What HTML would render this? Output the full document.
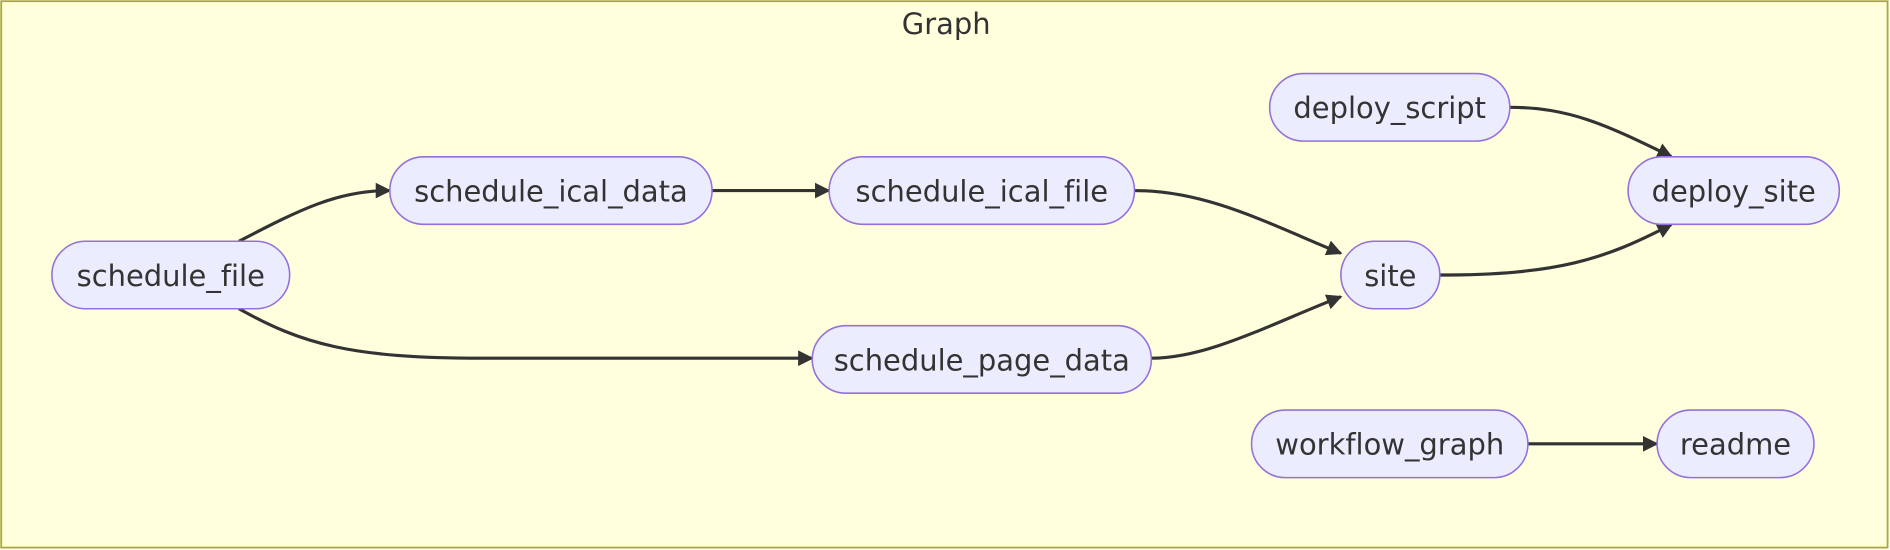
<!DOCTYPE html>
<html><head><meta charset="utf-8"><style>
html,body{margin:0;padding:0;background:#fff;}
svg{display:block;}
text{font-family:"DejaVu Sans","Liberation Sans",sans-serif;fill:#333;font-variant-ligatures:none;font-feature-settings:"liga" 0;}
</style></head><body>
<svg width="1890" height="550" viewBox="0 0 1566 456" preserveAspectRatio="none" xmlns="http://www.w3.org/2000/svg">
<defs>
<marker id="a" viewBox="0 0 10 10" refX="9" refY="5" markerWidth="5" markerHeight="5" orient="auto" markerUnits="strokeWidth">
<path d="M0,0 L10,5 L0,10 z" fill="#333"/></marker>
</defs>
<rect x="1" y="1" width="1563" height="453" fill="#FFFFDE" stroke="#AAAA33" stroke-width="1.5"/>
<text x="784" y="28" font-size="24" text-anchor="middle">Graph</text>
<g fill="none" stroke="#333" stroke-width="2.6" marker-end="url(#a)">
<path d="M198,200 C250,173 280,158 323,158"/>
<path d="M198,256 C250,285 290,297 400,297 L673,297"/>
<path d="M590,158 L687,158"/>
<path d="M940,158 C1000,158 1050,185 1111,210"/>
<path d="M954,297 C1000,297 1050,270 1111,246"/>
<path d="M1193,228 C1290,228 1330,215 1385,186"/>
<path d="M1251,89 C1300,89 1330,103 1385,130"/>
<path d="M1266,368 L1373,368"/>
</g>
<g fill="#ECECFF" stroke="#9370DB" stroke-width="1.3">
<rect x="43" y="200" width="197" height="56" rx="28"/>
<rect x="323" y="130" width="267" height="56" rx="28"/>
<rect x="687" y="130" width="253" height="56" rx="28"/>
<rect x="673" y="270" width="281" height="56" rx="28"/>
<rect x="1111" y="200" width="82" height="56" rx="28"/>
<rect x="1052" y="61" width="199" height="56" rx="28"/>
<rect x="1349" y="130" width="175" height="56" rx="28"/>
<rect x="1037" y="340" width="229" height="56" rx="28"/>
<rect x="1373" y="340" width="130" height="56" rx="28"/>
</g>
<g font-size="24" text-anchor="middle">
<text x="141.5" y="237">schedule_file</text>
<text x="456.5" y="167">schedule_ical_data</text>
<text x="813.5" y="167">schedule_ical_file</text>
<text x="813.5" y="307">schedule_page_data</text>
<text x="1152" y="237">site</text>
<text x="1151.5" y="98">deploy_script</text>
<text x="1436.5" y="167">deploy_site</text>
<text x="1151.5" y="377">workflow_graph</text>
<text x="1438" y="377">readme</text>
</g>
</svg>
</body></html>
